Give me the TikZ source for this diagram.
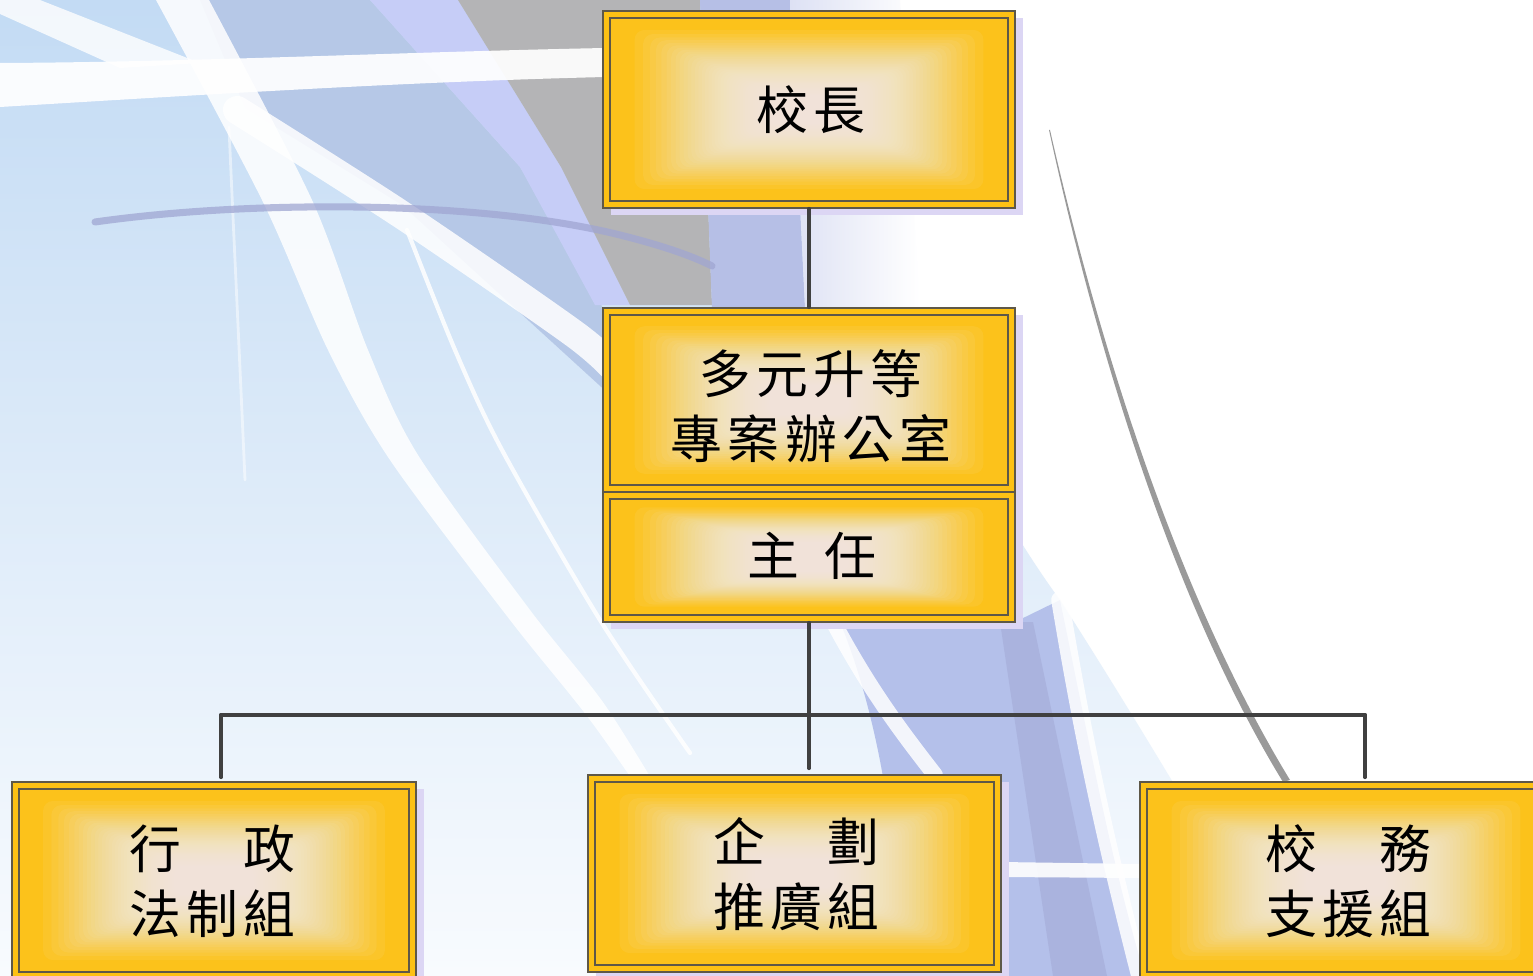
\documentclass[tikz,border=0pt]{standalone}
\usepackage{fontspec}
\newfontfamily\cjk[LetterSpace=10]{Noto Sans CJK TC}
\usetikzlibrary{calc}
\definecolor{bgTop}{HTML}{C3DBF4}
\definecolor{bgMid}{HTML}{D4E6F8}
\definecolor{bgBot}{HTML}{F8FBFE}
\definecolor{lavBlue}{HTML}{B6C8E7}
\definecolor{lavLight}{HTML}{C6CDF7}
\definecolor{grayW}{HTML}{B4B4B6}
\definecolor{lavStrong}{HTML}{B6BFE6}
\definecolor{lavPale}{HTML}{DDE1F4}
\definecolor{lavLow}{HTML}{B4C0EA}
\definecolor{lavDark}{HTML}{A4ABD6}
\definecolor{arcC}{HTML}{A0A6D2}
\definecolor{lineG}{HTML}{9A9A9A}
\definecolor{connC}{HTML}{404040}
\definecolor{boxFill}{HTML}{FDC114}
\definecolor{boxLine}{HTML}{5E5848}
\definecolor{shadowC}{HTML}{DCD6F4}
\definecolor{innerFill}{HTML}{FCC21B}
\definecolor{paleC}{HTML}{F1EFE8}
\tikzset{
  outerbox/.style={draw=boxLine, line width=0.45pt, fill=boxFill, rectangle, inner sep=0pt},
  innerbox/.style={draw=boxLine, line width=0.45pt, rectangle, inner sep=0pt, fill=innerFill},
  glow/.style={fill=paleC, opacity=0.075, rounded corners=0.1cm},
  boxshadow/.style={fill=shadowC},
  lbl/.style={font=\cjk\fontsize{14.75pt}{18.5pt}\selectfont, align=center, inner sep=0pt, text=black},
  conn/.style={draw=connC, line width=1.1pt, line cap=round},
  stripe/.style={draw=white, line cap=round, opacity=0.85}
}
\newcommand\orgbox[5]{%
  \fill[boxshadow] ({#2-#4/2+8},{#3-#5/2+7}) rectangle ++(#4,#5);
  \node[outerbox, minimum width={#4*0.01cm}, minimum height={#5*0.01cm}] (#1) at (#2,#3) {};
  \node[innerbox, minimum width={(#4-14)*0.01cm}, minimum height={(#5-14)*0.01cm}] (#1in) at (#2,#3) {};
  \foreach \k in {1,...,40}{%
    \pgfmathsetmacro\fr{(\k/40)^0.6}%
    \pgfmathsetmacro\ix{8+\fr*(#4/2-7-8-40)}%
    \pgfmathsetmacro\iy{4+\fr*(#5/2-7-4-15)}%
    \fill[glow] ({#2-#4/2+7+\ix},{#3-#5/2+7+\iy}) rectangle ({#2+#4/2-7-\ix},{#3+#5/2-7-\iy});
  }%
}
\begin{document}
\begin{tikzpicture}[x=0.01cm, y=-0.01cm]
\useasboundingbox (0,0) rectangle (1533,976);
\clip (0,0) rectangle (1533,976);
% ---------- background ----------
\fill[white] (0,0) rectangle (1533,976);
\shade[top color=bgTop, middle color=bgMid, bottom color=bgBot]
  (0,0) -- (800,0) .. controls (850,200) and (950,450) .. (1060,600)
  .. controls (1150,740) and (1230,880) .. (1290,976) -- (0,976) -- cycle;
% upper lavender / gray wedges
\fill[lavBlue] (200,0) -- (370,0) -- (520,167) -- (610,320) -- (610,395) -- (402,205) -- (245,108) -- cycle;
\fill[lavLight] (370,0) -- (458,0) -- (561,167) -- (630,305) -- (595,305) -- (520,167) -- cycle;
\fill[grayW] (458,0) -- (700,0) -- (712,305) -- (630,305) -- (561,167) -- cycle;
\fill[lavStrong] (700,0) -- (790,0) -- (805,308) -- (712,308) -- cycle;
\shade[left color=lavPale, right color=white] (790,0) -- (900,0) -- (920,308) -- (805,308) -- cycle;
% lower lavender bands
\fill[lavLow] (840,622) -- (1015,622) -- (1060,600) .. controls (1085,720) and (1110,860) .. (1145,976)
  -- (900,976) .. controls (900,850) and (880,720) .. (840,622) -- cycle;
\fill[lavDark, opacity=0.6] (1000,622) -- (1033,622) -- (1107,976) -- (1053,976) -- cycle;
\draw[stripe, line width=4.5pt] (835,625) .. controls (870,690) and (900,730) .. (935,775);
\draw[stripe, line width=5pt] (1060,600) .. controls (1080,720) and (1100,820) .. (1140,976);
\fill[white, opacity=0.9] (1001,862) -- (1140,864) -- (1140,878) -- (1001,877) -- cycle;
% white swooshes
\fill[white, opacity=0.92] (0,63) .. controls (200,62) and (400,52) .. (605,48) -- (605,77)
  .. controls (400,82) and (200,95) .. (0,107) -- cycle;
\fill[white, opacity=0.8] (0,0) -- (40,0) -- (200,63) -- (120,68) -- (0,14) -- cycle;
\fill[white, opacity=0.85] plot[smooth] coordinates {(156,0) (262,200) (328,350) (390,460) (510,620) (590,720) (660,820)}
  -- plot[smooth] coordinates {(670,810) (605,705) (530,610) (418,455) (368,350) (312,200) (209,0)} -- cycle;
\draw[stripe, line width=8pt] plot[smooth] coordinates {(237,110) (402,215) (573,333) (615,370)};
\draw[stripe, line width=0.8pt, opacity=0.5] (229,127) .. controls (233,220) and (237,300) .. (245,480);
\draw[stripe, line width=1.2pt] plot[smooth] coordinates {(407,230) (455,350) (502,450) (600,620) (690,753)};
\draw[arcC, opacity=0.75, line width=2pt, line cap=round] (95,222) .. controls (250,200) and (480,200) .. (620,235) .. controls (660,245) and (690,255) .. (712,266);
\fill[lineG] (1050,130) .. controls (1100,350) and (1180,600) .. (1290,780) -- (1283,782)
  .. controls (1174,604) and (1097,352) .. (1049,130) -- cycle;
% ---------- connectors ----------
\coordinate (jn) at (809,715);
\coordinate (hl) at (221,715);
\coordinate (hr) at (1365,715);
% ---------- boxes ----------
\orgbox{top}{809}{109.5}{412}{197}
\orgbox{mid}{809}{400}{412}{184}
\orgbox{dir}{809}{557}{412}{130}
\orgbox{bA}{214}{880.5}{404}{197}
\orgbox{bB}{794.5}{873.5}{413}{197}
\orgbox{bC}{1346}{880.5}{412}{197}
\draw[conn] (top.south) -- (mid.north);
\draw[conn, shorten >=0.06cm] (dir.south) -- (jn) -- (jn |- bB.north);
\draw[conn] (hl) -- (hr);
\draw[conn, shorten >=0.04cm] (hl) -- (hl |- bA.north);
\draw[conn, shorten >=0.04cm] (hr) -- (hr |- bC.north);
% ---------- labels ----------
\node[lbl] (tTop) at (811,110) {校長};
\node[lbl] (tMid) at (811,406) {多元升等\\專案辦公室};
\node[lbl] (tDir) at (812,556) {主\hspace{0.26cm}任};
\node[lbl] (tA) at (212,881) {行　政\\法制組};
\node[lbl] (tB) at (796,874) {企　劃\\推廣組};
\node[lbl] (tC) at (1348,881) {校　務\\支援組};
\end{tikzpicture}
\end{document}
